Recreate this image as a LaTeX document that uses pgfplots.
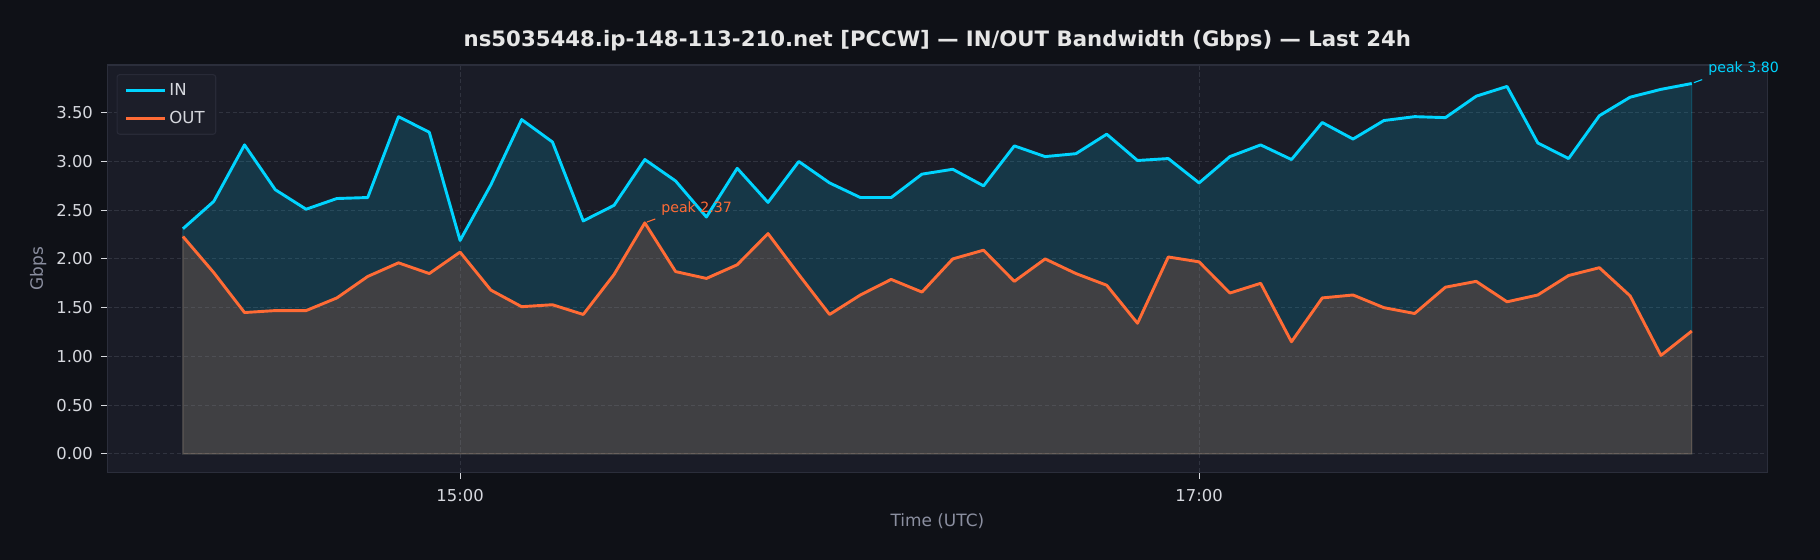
\documentclass[border=0pt]{standalone}
\usepackage{fontspec}
\setmainfont{DejaVu Sans}
\usepackage{pgfplots}
\usepackage{pgfplotstable}
\pgfplotsset{compat=1.18}
\definecolor{figbg}{HTML}{0F1117}
\definecolor{axbg}{HTML}{1A1C27}
\definecolor{spine}{HTML}{2B2E3B}
\definecolor{gridc}{HTML}{30333F}
\definecolor{tickc}{HTML}{D6D8DE}
\definecolor{labc}{HTML}{8B8FA0}
\definecolor{titc}{HTML}{E6E6E6}
\definecolor{incol}{HTML}{00D4FF}
\definecolor{outcol}{HTML}{FF6B35}
\definecolor{legbg}{HTML}{1C1E29}
\definecolor{legbd}{HTML}{282A37}

\pgfplotstableread{
t in out
-45 2.31 2.23
-40 2.59 1.86
-35 3.17 1.45
-30 2.71 1.47
-25 2.51 1.47
-20 2.62 1.60
-15 2.63 1.82
-10 3.46 1.96
-5 3.30 1.85
0 2.19 2.07
5 2.76 1.68
10 3.43 1.51
15 3.20 1.53
20 2.39 1.43
25 2.55 1.84
30 3.02 2.37
35 2.80 1.87
40 2.43 1.80
45 2.93 1.94
50 2.58 2.26
55 3.00 1.84
60 2.78 1.43
65 2.63 1.63
70 2.63 1.79
75 2.87 1.66
80 2.92 2.00
85 2.75 2.09
90 3.16 1.77
95 3.05 2.00
100 3.08 1.85
105 3.28 1.73
110 3.01 1.34
115 3.03 2.02
120 2.78 1.97
125 3.05 1.65
130 3.17 1.75
135 3.02 1.15
140 3.40 1.60
145 3.23 1.63
150 3.42 1.50
155 3.46 1.44
160 3.45 1.71
165 3.67 1.77
170 3.77 1.56
175 3.19 1.63
180 3.03 1.83
185 3.47 1.91
190 3.66 1.62
195 3.74 1.01
200 3.80 1.26
}\datatable

\begin{document}
\begin{tikzpicture}
\fill[figbg] (0,0) rectangle (1310.4bp,403.2bp);
\begin{axis}[
  at={(77.4bp,63.1bp)}, anchor=south west,
  scale only axis, width=1195bp, height=293.3bp,
  xmin=-57.25, xmax=212.25, ymin=-0.19, ymax=3.99,
  clip=false,
  axis background/.style={fill=axbg},
  axis line style={spine, line width=1bp},
  xtick={0,120}, xticklabels={15:00,17:00},
  ytick={0,0.5,1,1.5,2,2.5,3,3.5},
  yticklabel={\pgfmathprintnumber[fixed,fixed zerofill,precision=2]{\tick}},
  /pgf/number format/assume math mode=true,
  tick pos=left, tick align=outside, major tick length=4.5bp,
  tick style={tickc, line width=0.8bp},
  ticklabel style={font=\fontsize{11.8bp}{14bp}\selectfont, text=tickc},
  yticklabel style={xshift=-2.5bp},
  xticklabel style={yshift=-4.2bp},
  grid=major,
  major grid style={gridc, line width=0.8bp, dash pattern=on 3bp off 2bp},
  xlabel={Time (UTC)}, ylabel={Gbps},
  label style={font=\fontsize{12.2bp}{14bp}\selectfont, text=labc},
  xlabel style={at={(axis description cs:0.5,0)}, anchor=north, inner sep=0pt, yshift=-29.5bp},
  ylabel style={at={(axis description cs:-0.0417,0.5)}, anchor=center, inner sep=0pt},
  title={ns5035448.ip-148-113-210.net [PCCW] — IN/OUT Bandwidth (Gbps) — Last 24h},
  title style={font=\bfseries\fontsize{15.3bp}{18bp}\selectfont, text=titc, at={(axis description cs:0.5,1)}, anchor=base, inner sep=0pt, yshift=7.2bp},
  legend style={at={(axis description cs:0,1)}, anchor=north west, xshift=6.5bp, yshift=-6.5bp,
    fill=legbg, draw=legbd, line width=0.8bp, rounded corners=2bp, text=tickc,
    font=\fontsize{11.9bp}{14bp}\selectfont, inner xsep=5.5bp, inner ysep=4bp, row sep=4.5bp,
    nodes={inner sep=2.5bp}},
  legend cell align=left,
  legend image code/.code={\draw[#1, line width=2.1bp] (0bp,0bp) -- (27.6bp,0bp);},
]
\addplot[fill=incol, fill opacity=0.15, draw=incol, draw opacity=0.15, line width=1bp, forget plot]
  table[x=t, y=in]{\datatable} \closedcycle;
\addplot[fill=outcol, fill opacity=0.18, draw=outcol, draw opacity=0.18, line width=1bp, forget plot]
  table[x=t, y=out]{\datatable} \closedcycle;
\addplot[incol, line width=2.1bp, line join=round] table[x=t, y=in]{\datatable};
\addlegendentry{IN}
\addplot[outcol, line width=2.1bp, line join=round] table[x=t, y=out]{\datatable};
\addlegendentry{OUT}
\draw[outcol, line width=0.8bp] (axis cs:30,2.37) ++(1.5bp,0.6bp) -- ++(6bp,2.2bp);
\node[anchor=base west, inner sep=0pt, text=outcol, font=\fontsize{10.2bp}{12bp}\selectfont, xshift=11.7bp, yshift=7.8bp] at (axis cs:30,2.37) {peak 2.37};
\draw[incol, line width=0.8bp] (axis cs:200,3.80) ++(1.5bp,0.6bp) -- ++(6bp,2.2bp);
\node[anchor=base west, inner sep=0pt, text=incol, font=\fontsize{10.2bp}{12bp}\selectfont, xshift=11.7bp, yshift=7.8bp] at (axis cs:200,3.80) {peak 3.80};
\end{axis}
\pgfresetboundingbox
\useasboundingbox (0,0) rectangle (1310.4bp,403.2bp);
\end{tikzpicture}
\end{document}
